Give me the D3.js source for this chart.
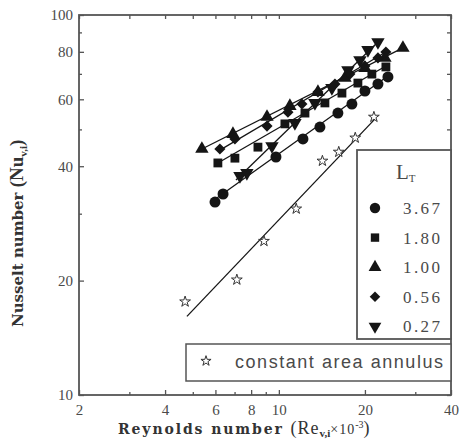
<!DOCTYPE html>
<html>
<head>
<meta charset="utf-8">
<script src="https://cdn.jsdelivr.net/npm/d3@7"></script>
<style>
  body { margin: 0; background: #fff; }
</style>
</head>
<body>
<div id="chart"></div>
<script>
// axis ticks
const xTicks = [2, 4, 6, 8, 10, 20, 40];
const xMinor = [3, 5, 7, 9, 30];
const yTicks = [10, 20, 40, 60, 80, 100];
const yMinor = [30, 50, 70, 90];

// L_T values (legend order)
const ltLabels = ["3.67", "1.80", "1.00", "0.56", "0.27"];

// Re (x10^-3) and Nu for each L_T
const re_367 = [5.98, 6.38, 9.77, 12.14, 13.92, 16.09, 18.01, 20.0, 22.21, 24.07];
const nu_367 = [32.2, 33.8, 42.3, 47.2, 50.7, 55.2, 58.3, 63.1, 65.8, 68.7];
const re_180 = [6.12, 7.02, 8.45, 10.50, 12.34, 14.49, 16.62, 18.90, 21.15, 23.68];
const nu_180 = [40.8, 42.0, 44.9, 51.7, 55.2, 58.7, 62.3, 66.2, 69.9, 73.0];
const re_100 = [5.38, 6.91, 9.09, 10.93, 13.70, 17.03, 20.0, 23.50, 27.16];
const nu_100 = [44.4, 48.6, 53.9, 57.6, 62.7, 68.3, 72.5, 77.1, 81.9];
const re_056 = [6.22, 7.02, 9.09, 10.76, 12.04, 13.70, 15.71, 17.72, 20.0, 22.21, 23.68];
const nu_056 = [44.4, 47.2, 51.0, 55.5, 58.3, 62.7, 65.8, 69.9, 73.4, 77.1, 79.9];
const re_027 = [7.31, 7.73, 9.46, 11.38, 13.37, 15.33, 17.44, 19.21, 20.49, 22.21];
const nu_027 = [37.7, 38.4, 45.2, 52.0, 58.7, 64.3, 71.6, 76.1, 80.9, 84.9];

// constant area annulus
const re_ann = [4.70, 7.13, 8.87, 11.5, 14.2, 16.2, 18.5, 21.5];
const nu_ann = [17.6, 20.1, 25.4, 30.9, 41.3, 43.6, 47.5, 53.9];

// correlation lines [Re, Nu] start / end
const fit_367 = [[6.07, 33.0], [24.07, 69.1]];
const fit_180 = [[6.12, 40.8], [23.68, 73.4]];
const fit_100 = [[5.38, 44.4], [27.16, 81.9]];
const fit_056 = [[6.22, 44.1], [23.68, 79.9]];
const fit_027 = [[7.08, 36.8], [22.21, 84.9]];
const fit_ann = [[4.77, 16.1], [21.7, 53.3]];

const W = 462, H = 443;
const margin = {top: 15, right: 11, bottom: 48, left: 79};
const width = W - margin.left - margin.right,
      height = H - margin.top - margin.bottom;

const ink = "#151515", grey = "#4a4a4a";

const svg = d3.select("#chart").append("svg")
    .attr("width", W).attr("height", H)
  .append("g")
    .attr("transform", `translate(${margin.left},${margin.top})`);

const x = d3.scaleLog().domain([2, 40]).range([0, width]);
const y = d3.scaleLog().domain([10, 100]).range([height, 0]);

// frame
svg.append("rect")
  .attr("width", width).attr("height", height)
  .attr("fill", "none").attr("stroke", "#555").attr("stroke-width", 1.8);

function tidy(g) {
  g.select(".domain").remove();
  g.selectAll("line").attr("stroke", "#555").attr("stroke-width", 1.3);
  g.selectAll("text").attr("font-family", "Liberation Serif").attr("font-size", 15).attr("fill", grey);
}

svg.append("g").attr("transform", `translate(0,${height})`)
  .call(d3.axisBottom(x).tickValues(xTicks).tickSize(-5).tickPadding(9).tickFormat(d3.format("d")))
  .call(tidy);
svg.append("g").attr("transform", `translate(0,${height})`)
  .call(d3.axisBottom(x).tickValues(xMinor).tickSize(-3).tickFormat(""))
  .call(tidy);
svg.append("g")
  .call(d3.axisTop(x).tickValues(xTicks.concat(xMinor)).tickSize(-4).tickFormat(""))
  .call(tidy);

svg.append("g")
  .call(d3.axisLeft(y).tickValues(yTicks).tickSize(-5).tickPadding(6).tickFormat(d3.format("d")))
  .call(tidy);
svg.append("g")
  .call(d3.axisLeft(y).tickValues(yMinor).tickSize(-3).tickFormat(""))
  .call(tidy);
svg.append("g").attr("transform", `translate(${width},0)`)
  .call(d3.axisRight(y).tickValues(yTicks.concat(yMinor)).tickSize(-4).tickFormat(""))
  .call(tidy);

// marker shapes
const shapes = [
  {sym: d3.symbolCircle, size: 95, rot: 0},
  {sym: d3.symbolSquare, size: 78, rot: 0},
  {sym: d3.symbolTriangle, size: 78, rot: 0},
  {sym: d3.symbolSquare, size: 62, rot: 45},
  {sym: d3.symbolTriangle, size: 78, rot: 180}
];

const series = [
  {re: re_367, nu: nu_367, fit: fit_367},
  {re: re_180, nu: nu_180, fit: fit_180},
  {re: re_100, nu: nu_100, fit: fit_100},
  {re: re_056, nu: nu_056, fit: fit_056},
  {re: re_027, nu: nu_027, fit: fit_027}
];

const line = d3.line().x(d => x(d[0])).y(d => y(d[1]));

// fitted lines
series.forEach(s => {
  svg.append("path").attr("d", line(s.fit))
    .attr("fill", "none").attr("stroke", ink).attr("stroke-width", 1.3);
});
svg.append("path").attr("d", line(fit_ann))
  .attr("fill", "none").attr("stroke", ink).attr("stroke-width", 1.3);

// points
series.forEach((s, i) => {
  const sh = shapes[i];
  svg.append("g").selectAll("path")
    .data(s.re.map((r, j) => [r, s.nu[j]]))
    .join("path")
      .attr("transform", d => `translate(${x(d[0])},${y(d[1])}) rotate(${sh.rot})`)
      .attr("d", d3.symbol(sh.sym, sh.size))
      .attr("fill", ink);
});

svg.append("g").selectAll("path")
  .data(re_ann.map((r, j) => [r, nu_ann[j]]))
  .join("path")
    .attr("transform", d => `translate(${x(d[0])},${y(d[1])})`)
    .attr("d", d3.symbol(d3.symbolStar, 36))
    .attr("fill", "#fff").attr("stroke", "#333").attr("stroke-width", 1);

// L_T legend
const leg = svg.append("g").attr("transform", `translate(${278},${135})`);
leg.append("rect").attr("width", width - 278).attr("height", 189)
  .attr("fill", "#fff").attr("stroke", "#555").attr("stroke-width", 1.8);
const lt = leg.append("text").attr("x", 39).attr("y", 29)
  .attr("font-family", "Liberation Serif").attr("fill", grey);
lt.append("tspan").attr("font-size", 21).text("L");
lt.append("tspan").attr("font-size", 11).attr("dy", 3).text("T");

ltLabels.forEach((lab, i) => {
  const sh = shapes[i];
  const cy = 58 + i * 29.6;
  leg.append("path")
    .attr("transform", `translate(18,${cy}) rotate(${sh.rot})`)
    .attr("d", d3.symbol(sh.sym, sh.size * 0.9))
    .attr("fill", ink);
  leg.append("text").attr("x", 46).attr("y", cy + 6)
    .attr("font-family", "Liberation Serif").attr("font-size", 17)
    .attr("textLength", 37).attr("lengthAdjust", "spacing")
    .attr("fill", grey).text(lab);
});

// annulus legend
const leg2 = svg.append("g").attr("transform", `translate(${107},${329})`);
leg2.append("rect").attr("width", width - 107).attr("height", 37)
  .attr("fill", "#fff").attr("stroke", "#555").attr("stroke-width", 1.5);
leg2.append("path").attr("transform", "translate(20,17)")
  .attr("d", d3.symbol(d3.symbolStar, 32))
  .attr("fill", "#fff").attr("stroke", "#333").attr("stroke-width", 1);
leg2.append("text").attr("x", 49).attr("y", 24)
  .attr("font-family", "Liberation Sans").attr("font-size", 18)
  .attr("textLength", 208).attr("lengthAdjust", "spacing")
  .attr("fill", grey).text("constant area annulus");

// axis titles
const xt = svg.append("text").attr("x", 39).attr("y", height + 39)
  .attr("fill", "#333");
xt.append("tspan").attr("font-family", "DejaVu Serif").attr("font-weight", "bold")
  .attr("font-size", 14).attr("letter-spacing", 1.9).text("Reynolds number ");
xt.append("tspan").attr("font-family", "Liberation Serif").attr("font-size", 18).attr("letter-spacing", 1).text("(Re");
xt.append("tspan").attr("font-family", "Liberation Serif").attr("font-weight", "bold").attr("font-size", 11).attr("dy", 3).text("v,i");
xt.append("tspan").attr("font-family", "Liberation Serif").attr("font-size", 14).attr("letter-spacing", 1).attr("dy", -3).text("\u00d710");
xt.append("tspan").attr("font-family", "Liberation Serif").attr("font-size", 10).attr("dy", -6).text("-3");
xt.append("tspan").attr("font-family", "Liberation Serif").attr("font-size", 18).attr("dy", 6).text(")");

const yt = svg.append("text")
  .attr("transform", `translate(${-56},${312}) rotate(-90)`)
  .attr("fill", "#333").attr("font-weight", "bold");
yt.append("tspan").attr("font-family", "DejaVu Serif").attr("font-size", 15).text("Nusselt number ");
yt.append("tspan").attr("font-family", "Liberation Serif").attr("font-size", 19).text("(Nu");
yt.append("tspan").attr("font-family", "Liberation Serif").attr("font-size", 11).attr("dy", 4).text("v,i");
yt.append("tspan").attr("font-family", "Liberation Serif").attr("font-size", 19).attr("dy", -4).text(")");
</script>
</body>
</html>
